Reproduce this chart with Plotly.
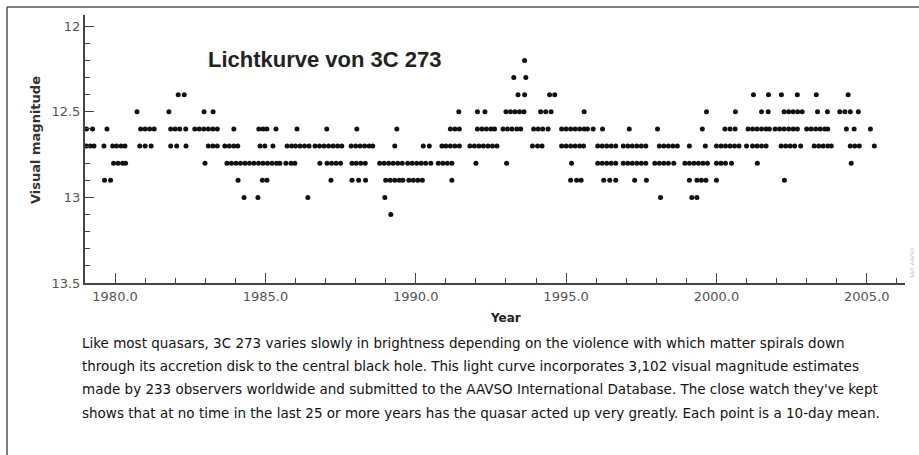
import plotly.graph_objects as go

# Visual magnitude rows (10-day means), years
years_mag_12_2 = [1993.62]
years_mag_12_3 = [1993.26, 1993.66]
years_mag_12_4 = [1982.1, 1982.3, 1993.4, 1993.62, 1994.45, 1994.62, 2001.23, 2001.73,
                  2002.16, 2002.69, 2003.32, 2004.38]
years_mag_12_5 = [1980.73, 1981.79, 1982.96, 1983.26, 1991.43, 1992.05, 1992.3, 1993.0,
                  1993.15, 1993.3, 1993.45, 1993.6, 1994.15, 1994.32, 1994.5, 1995.6,
                  1999.67, 2000.63, 2001.5, 2001.72, 2002.25, 2002.4, 2002.55, 2002.7,
                  2002.85, 2003.36, 2003.69, 2004.1, 2004.27, 2004.45, 2004.72]
years_mag_12_6 = [1979.05, 1979.25, 1979.73, 1980.85, 1981.0, 1981.15, 1981.3, 1981.85,
                  1982.0, 1982.15, 1982.35, 1982.65, 1982.8, 1982.95, 1983.1, 1983.25,
                  1983.4, 1983.95, 1984.78, 1984.92, 1985.05, 1985.35, 1986.05, 1987.04,
                  1988.04, 1989.37, 1991.15, 1991.3, 1991.45, 1992.05, 1992.2, 1992.35,
                  1992.5, 1992.62, 1992.9, 1993.05, 1993.2, 1993.36, 1993.49, 1993.92,
                  1994.07, 1994.22, 1994.4, 1994.85, 1995.0, 1995.15, 1995.3, 1995.45,
                  1995.6, 1995.71, 1995.9, 1996.21, 1997.1, 1998.04, 1999.53, 2000.28,
                  2000.45, 2000.62, 2001.05, 2001.2, 2001.35, 2001.5, 2001.65, 2001.76,
                  2001.95, 2002.1, 2002.25, 2002.4, 2002.55, 2002.69, 2003.0, 2003.15,
                  2003.3, 2003.45, 2003.6, 2003.7, 2004.32, 2004.58, 2005.12]
years_mag_12_7 = [1979.05, 1979.18, 1979.3, 1979.63, 1979.92, 1980.05, 1980.2, 1980.33,
                  1980.82, 1981.0, 1981.2, 1981.85, 1982.05, 1982.36, 1983.1, 1983.25,
                  1983.4, 1983.65, 1983.8, 1983.95, 1984.08, 1984.82, 1984.98, 1985.25,
                  1985.72, 1985.87, 1986.0, 1986.15, 1986.3, 1986.45, 1986.65, 1986.8,
                  1986.95, 1987.1, 1987.25, 1987.4, 1987.54, 1987.85, 1988.0, 1988.15,
                  1988.3, 1988.45, 1988.57, 1989.3, 1990.25, 1990.45, 1990.87, 1991.0,
                  1991.15, 1991.3, 1991.45, 1991.8, 1991.95, 1992.1, 1992.25, 1992.4,
                  1992.55, 1992.7, 1993.88, 1994.05, 1994.2, 1994.85, 1995.0, 1995.15,
                  1995.3, 1995.45, 1995.58, 1996.05, 1996.2, 1996.35, 1996.5, 1996.65,
                  1996.9, 1997.05, 1997.2, 1997.35, 1997.5, 1997.65, 1998.1, 1998.25,
                  1998.4, 1998.55, 1998.7, 1999.1, 1999.63, 2000.0, 2000.15, 2000.3,
                  2000.45, 2000.6, 2000.75, 2001.0, 2001.2, 2001.35, 2001.5, 2001.65,
                  2002.15, 2002.3, 2002.45, 2002.6, 2002.8, 2003.25, 2003.4, 2003.55,
                  2003.7, 2003.82, 2004.45, 2004.6, 2004.75, 2005.25]
years_mag_12_8 = [1979.95, 1980.1, 1980.25, 1980.35, 1982.99, 1983.72, 1983.87, 1984.02,
                  1984.17, 1984.32, 1984.47, 1984.62, 1984.77, 1984.92, 1985.07, 1985.22,
                  1985.37, 1985.48, 1985.68, 1985.85, 1985.98, 1986.81, 1987.05, 1987.2,
                  1987.35, 1987.5, 1987.88, 1988.02, 1988.17, 1988.32, 1988.8, 1988.95,
                  1989.1, 1989.25, 1989.4, 1989.55, 1989.73, 1989.88, 1990.03, 1990.18,
                  1990.33, 1990.5, 1990.75, 1990.9, 1991.05, 1991.2, 1992.0, 1993.02,
                  1995.18, 1996.05, 1996.2, 1996.35, 1996.5, 1996.65, 1996.9, 1997.05,
                  1997.2, 1997.35, 1997.5, 1997.65, 1997.95, 1998.1, 1998.25, 1998.4,
                  1998.58, 1998.95, 1999.1, 1999.25, 1999.4, 1999.55, 1999.7, 2000.0,
                  2000.15, 2000.3, 2000.5, 2001.36, 2004.48]
years_mag_12_9 = [1979.65, 1979.85, 1984.09, 1984.9, 1985.05, 1987.18, 1987.88, 1988.1,
                  1988.33, 1989.0, 1989.15, 1989.3, 1989.45, 1989.57, 1989.77, 1989.92,
                  1990.07, 1990.22, 1991.2, 1995.15, 1995.35, 1995.5, 1996.25, 1996.45,
                  1996.65, 1997.28, 1997.67, 1999.1, 1999.35, 1999.5, 1999.65, 2000.0,
                  2002.26]
years_mag_13_0 = [1984.29, 1984.75, 1986.41, 1988.97, 1998.14, 1999.18, 1999.35]
years_mag_13_1 = [1989.17]

magnitudes = [12.2, 12.3, 12.4, 12.5, 12.6, 12.7, 12.8, 12.9, 13.0, 13.1]
year_rows = [years_mag_12_2, years_mag_12_3, years_mag_12_4, years_mag_12_5,
             years_mag_12_6, years_mag_12_7, years_mag_12_8, years_mag_12_9,
             years_mag_13_0, years_mag_13_1]

y_tick_values = [12, 12.5, 13, 13.5]
y_tick_labels = ["12", "12.5", "13", "13.5"]
x_tick_values = [1980, 1985, 1990, 1995, 2000, 2005]
x_tick_labels = ["1980.0", "1985.0", "1990.0", "1995.0", "2000.0", "2005.0"]

title_text = "Lichtkurve von 3C 273"
x_title = "Year"
y_title = "Visual magnitude"
caption_lines = [
    "Like most quasars, 3C 273 varies slowly in brightness depending on the violence with which matter spirals down",
    "through its accretion disk to the central black hole. This light curve incorporates 3,102 visual magnitude estimates",
    "made by 233 observers worldwide and submitted to the AAVSO International Database. The close watch they've kept",
    "shows that at no time in the last 25 or more years has the quasar acted up very greatly. Each point is a 10-day mean.",
]

xs, ys = [], []
for m, row in zip(magnitudes, year_rows):
    xs += row
    ys += [m] * len(row)

# layout geometry (pixels)
W, H = 919, 455
L, R, T, B = 85, 14, 15, 172
pw, ph = W - L - R, H - T - B


def px(xp):
    return (xp - L) / pw


def py(yp):
    return (H - B - yp) / ph


fig = go.Figure()
fig.add_trace(go.Scatter(
    x=xs, y=ys, mode="markers",
    marker=dict(size=5, color="#111111", line=dict(width=0)),
    showlegend=False, hoverinfo="x+y",
))

axis_font = dict(family="DejaVu Sans", size=13, color="#555555")
fig.update_xaxes(
    range=[1979.0, 2006.27], showgrid=False, zeroline=False, automargin=False,
    showline=True, linecolor="#444444", linewidth=2,
    tickmode="array", tickvals=x_tick_values, ticktext=x_tick_labels,
    ticks="inside", ticklen=10, tickwidth=1, tickcolor="#444444",
    minor=dict(dtick=1, tick0=1980, ticks="inside", ticklen=5, tickwidth=1, tickcolor="#444444"),
    tickfont=axis_font,
)
fig.update_yaxes(
    range=[13.5, 11.935], showgrid=False, zeroline=False, automargin=False,
    showline=True, linecolor="#444444", linewidth=2,
    tickmode="array", tickvals=y_tick_values, ticktext=y_tick_labels,
    ticks="inside", ticklen=9, tickwidth=1, tickcolor="#444444",
    minor=dict(dtick=0.1, tick0=12, ticks="inside", ticklen=5, tickwidth=1, tickcolor="#444444"),
    tickfont=axis_font,
)

annotations = [
    dict(text="<b>" + title_text + "</b>", x=px(206), y=py(59), xanchor="left", yanchor="middle",
         font=dict(family="Liberation Sans", size=22, color="#222222")),
    dict(text="<b>" + x_title + "</b>", x=px(505), y=py(318), xanchor="center", yanchor="middle",
         font=dict(family="DejaVu Sans", size=12, color="#222222")),
    dict(text="<b>" + y_title + "</b>", x=px(35), y=py(140), xanchor="center", yanchor="middle",
         textangle=-90, font=dict(family="DejaVu Sans", size=13, color="#333333")),
    dict(text="S&amp;T: AAVSO", x=px(912), y=py(263), xanchor="center", yanchor="middle",
         textangle=-90, font=dict(family="DejaVu Sans", size=5, color="#bbbbbb")),
]
for i, line in enumerate(caption_lines):
    annotations.append(dict(
        text=line, x=px(80), y=py(343 + i * 23.2), xanchor="left", yanchor="middle",
        font=dict(family="DejaVu Sans", size=13.5, color="#111111"),
    ))
for a in annotations:
    a.update(xref="paper", yref="paper", showarrow=False)

shapes = [
    dict(type="line", xref="paper", yref="paper", x0=px(7), x1=px(925), y0=py(7), y1=py(7),
         line=dict(color="#555555", width=1.5)),
    dict(type="line", xref="paper", yref="paper", x0=px(7), x1=px(7), y0=py(7), y1=py(460),
         line=dict(color="#555555", width=1.5)),
]

fig.update_layout(
    width=W, height=H, margin=dict(l=L, r=R, t=T, b=B, pad=0),
    paper_bgcolor="white", plot_bgcolor="white",
    annotations=annotations, shapes=shapes,
)

fig.write_html("out.html", config={"displayModeBar": False},
               post_script="document.body.style.margin='0';document.body.style.overflow='hidden';")
